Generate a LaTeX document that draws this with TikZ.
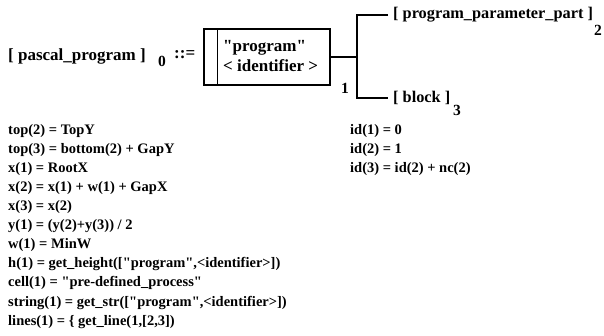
\documentclass[tikz,border=0pt]{standalone}
\usepackage{fontspec}
\setmainfont{Liberation Serif}[Ligatures=TeXOff]
\begin{document}
\begin{tikzpicture}[x=1pt,y=-1pt,
  eq/.style={inner sep=0pt, anchor=base west, font=\fontsize{14.5}{14.5}\selectfont\bfseries},
  lab/.style={inner sep=0pt, font=\fontsize{16.3}{16.3}\selectfont\bfseries},
  idx/.style={inner sep=0pt, font=\fontsize{15.5}{15.5}\selectfont\bfseries},
  big/.style={inner sep=0pt, font=\fontsize{17}{20}\selectfont\bfseries},
  ln/.style={line width=1.5pt},
]
\useasboundingbox (0,0) rectangle (604,336);
% heading
\node[big, anchor=west] (head) at (8,56) {[ pascal\_program ]};
\node[idx, anchor=west] (n0) at (158,61) {0};
\node[big, anchor=west] (def) at (174,55) {::=};
% predefined-process box
\node[draw, ln, minimum width=126pt, minimum height=56pt, inner sep=0pt] (box) at (267,57) {};
\draw[ln] ([xshift=14pt]box.north west) -- ([xshift=14pt]box.south west);
\node[big, anchor=west, align=left] (boxtext) at (223,56) {"program"\\< identifier >};
% junction
\coordinate (j) at (357,57);
\coordinate (jt) at (357,15);
\coordinate (jb) at (357,98);
\node[lab, anchor=west] (ppp) at (388,15) {\hspace{5pt}[ program\_parameter\_part ]};
\node[lab, anchor=west] (blk) at (388,98) {\hspace{5pt}[ block ]};
\node[idx] (n2) at (598,30) {2};
\node[idx] (n3) at (457,110) {3};
\node[idx] (n1) at (345,88) {1};
\draw[ln] (box.east) -- (j);
\draw[ln] (ppp.west) -- (jt) -- (jb) -- (blk.west);
% equations, left column
\node[eq] (l1) at (8,135) {top(2) = TopY};
\node[eq] (l2) at (8,154) {top(3) = bottom(2) + GapY};
\node[eq] (l3) at (8,173) {x(1) = RootX};
\node[eq] (l4) at (8,192) {x(2) = x(1) + w(1) + GapX};
\node[eq] (l5) at (8,211) {x(3) = x(2)};
\node[eq] (l6) at (8,230) {y(1) = (y(2)+y(3)) / 2};
\node[eq] (l7) at (8,249) {w(1) = MinW};
\node[eq] (l8) at (8,268) {h(1) = get\_height(["program",<identifier>])};
\node[eq] (l9) at (8,287) {cell(1) = "pre-defined\_process"};
\node[eq] (l10) at (8,306) {string(1) = get\_str(["program",<identifier>])};
\node[eq] (l11) at (8,325) {lines(1) = \{ get\_line(1,[2,3])};
% right column
\node[eq] (r1) at (350,135) {id(1) = 0};
\node[eq] (r2) at (350,154) {id(2) = 1};
\node[eq] (r3) at (350,173) {id(3) = id(2) + nc(2)};
\end{tikzpicture}
\end{document}
